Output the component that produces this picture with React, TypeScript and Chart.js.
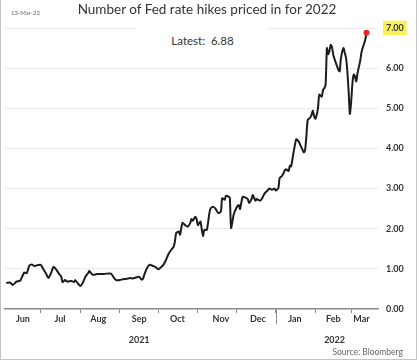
import React, { useEffect, useRef } from "react";
import { Chart, registerables } from "chart.js";

Chart.register(...registerables);

// Day index counted from 1 Jun 2021
const days = [
  3, 6, 8, 11, 14, 17, 19, 21, 23, 25, 27, 30, 32, 34, 36, 38, 40, 42, 44, 46,
  47, 49, 51, 54, 56, 57, 59, 61, 63, 65, 67, 68, 70, 71, 74, 76, 79, 81, 85, 87,
  89, 92, 94, 97, 100, 102, 105, 107, 109, 110, 111, 113, 115, 118, 120, 122, 124, 126, 128, 130,
  132, 134, 135, 136, 138, 139, 140, 141, 143, 145, 147, 148, 149, 151, 152, 153, 155, 156, 157, 158,
  160, 162, 163, 165, 167, 169, 171, 172, 174, 175, 177, 178, 179, 181, 183, 185, 186, 188, 190, 192,
  193, 195, 196, 198, 199, 202, 204, 205, 208, 209, 211, 213, 214, 216, 217, 219, 221, 222, 224, 225,
  226, 228, 230, 232, 234, 236, 237, 238, 239, 241, 242, 243, 244, 245, 247, 248, 250, 251, 252, 253,
  254, 255, 256, 257, 258, 259, 261, 263, 264, 265, 267, 268, 269, 270, 271, 272, 273, 274, 275, 276,
  277, 278, 280, 281, 282, 284, 285,
];
const values = [
  0.65, 0.66, 0.6, 0.68, 0.71, 0.91, 0.89, 1.08, 1.11, 1.07, 1.09, 1.1, 0.99, 0.89, 0.77, 0.89, 1.05, 0.99, 0.89, 0.81,
  0.67, 0.72, 0.68, 0.7, 0.67, 0.72, 0.64, 0.57, 0.66, 0.81, 0.89, 0.95, 0.87, 0.85, 0.87, 0.87, 0.87, 0.88, 0.88, 0.79,
  0.72, 0.72, 0.74, 0.75, 0.77, 0.76, 0.79, 0.8, 0.73, 0.75, 0.85, 1.01, 1.1, 1.07, 1.04, 0.99, 1.04, 1.1, 1.22, 1.37,
  1.47, 1.55, 1.68, 1.89, 1.93, 1.85, 2.01, 2.15, 2.09, 2.05, 2.14, 2.24, 2.2, 2.3, 2.24, 2.09, 2.18, 1.99, 1.82, 1.97,
  1.97, 2.39, 2.51, 2.55, 2.49, 2.39, 2.43, 2.76, 2.72, 2.82, 2.8, 2.76, 2.02, 2.35, 2.51, 2.59, 2.49, 2.79, 2.78, 2.74,
  2.64, 2.74, 2.84, 2.7, 2.74, 2.7, 2.8, 2.87, 2.97, 3.0, 2.97, 3.0, 2.95, 3.01, 3.26, 3.32, 3.45, 3.48, 3.44, 3.57,
  3.55, 3.92, 4.23, 4.17, 4.03, 3.9, 3.97, 4.34, 4.71, 4.77, 4.84, 4.94, 4.8, 4.74, 5.0, 5.34, 5.29, 5.46, 5.5, 5.59,
  6.5, 6.35, 6.43, 6.58, 6.52, 6.33, 6.13, 5.96, 5.92, 6.25, 6.5, 6.38, 6.25, 5.92, 5.42, 4.86, 5.17, 5.63, 5.84, 5.79,
  5.67, 5.88, 6.17, 6.38, 6.5, 6.71, 6.88,
];

const xMin = 2;
const xMax = 294;
const monthBoundaryDays = [30, 61, 92, 122, 153, 183, 214, 245, 273];
const monthLabelDays = [16, 45, 75, 107, 137, 171, 200, 229, 259, 281];
const monthLabels = ["Jun", "Jul", "Aug", "Sep", "Oct", "Nov", "Dec", "Jan", "Feb", "Mar"];
const yearLabelDays = [107, 260];
const yearLabels = ["2021", "2022"];
const yearDividerDay = 214;
const yTicks = [0, 1, 2, 3, 4, 5, 6, 7];
const highlightTick = 7;

const titleText = "Number of Fed rate hikes priced in for 2022";
const dateText = "13-Mar-22";
const latestText = "Latest:  6.88";
const sourceText = "Source: Bloomberg";

const FONT = "Lato, 'Open Sans', sans-serif";

export default function App() {
  const canvasRef = useRef<HTMLCanvasElement | null>(null);

  useEffect(() => {
    document.body.style.margin = "0";
    const canvas = canvasRef.current;
    if (!canvas) return;

    const dividerPlugin = {
      id: "yearDivider",
      afterDraw(chart: any) {
        const xs = chart.scales.x;
        const x = Math.round(xs.getPixelForValue(yearDividerDay)) + 0.5;
        const c = chart.ctx;
        c.save();
        c.strokeStyle = "#8a8a8a";
        c.lineWidth = 1;
        c.beginPath();
        c.moveTo(x, chart.chartArea.bottom - 1);
        c.lineTo(x, chart.chartArea.bottom + 15);
        c.stroke();
        c.restore();
      },
    };

    const monthTickValues = [...monthBoundaryDays, ...monthLabelDays].sort((a, b) => a - b);
    const last = values.length - 1;

    const chart = new Chart(canvas, {
      type: "line",
      data: {
        datasets: [
          {
            data: days.map((d, i) => ({ x: d, y: values[i] })),
            borderColor: "#1c1c1c",
            borderWidth: 2,
            tension: 0.2,
            pointRadius: (ctx: any) => (ctx.dataIndex === last ? 3 : 0),
            pointBackgroundColor: "#e8262a",
            pointBorderWidth: 0,
            fill: false,
          },
        ],
      },
      options: {
        animation: false,
        responsive: false,
        layout: { padding: { top: 28, bottom: 11, left: 5, right: 0 } },
        plugins: { legend: { display: false }, tooltip: { enabled: false } },
        scales: {
          x: {
            type: "linear",
            position: "bottom",
            min: xMin,
            max: xMax,
            weight: 0,
            afterBuildTicks: (axis: any) => {
              axis.ticks = monthTickValues.map((v) => ({ value: v }));
            },
            afterFit: (axis: any) => {
              axis.height = 22;
            },
            grid: {
              drawOnChartArea: false,
              tickLength: 4,
              tickColor: (ctx: any) =>
                ctx.tick && monthBoundaryDays.includes(ctx.tick.value) ? "#8a8a8a" : "rgba(0,0,0,0)",
            },
            border: { display: true, color: "#8a8a8a", width: 1.5 },
            ticks: {
              autoSkip: false,
              maxRotation: 0,
              padding: 1,
              color: "#333",
              font: { family: FONT, size: 9, weight: "bold" },
              callback: (v: any) => {
                const i = monthLabelDays.indexOf(Number(v));
                return i >= 0 ? monthLabels[i] : "";
              },
            },
          },
          xYear: {
            type: "linear",
            position: "bottom",
            min: xMin,
            max: xMax,
            weight: 1,
            afterBuildTicks: (axis: any) => {
              axis.ticks = yearLabelDays.map((v) => ({ value: v }));
            },
            afterFit: (axis: any) => {
              axis.height = 20;
            },
            grid: { display: false, drawTicks: false },
            border: { display: false },
            ticks: {
              autoSkip: false,
              maxRotation: 0,
              padding: 4,
              color: "#333",
              font: { family: FONT, size: 9, weight: "bold" },
              callback: (v: any) => {
                const i = yearLabelDays.indexOf(Number(v));
                return i >= 0 ? yearLabels[i] : "";
              },
            },
          },
          y: {
            type: "linear",
            position: "right",
            min: 0,
            max: 7,
            afterBuildTicks: (axis: any) => {
              axis.ticks = yTicks.map((v) => ({ value: v }));
            },
            afterFit: (axis: any) => {
              axis.width = 42;
            },
            grid: {
              color: (ctx: any) => (ctx.tick && ctx.tick.value === 0 ? "rgba(0,0,0,0)" : "#ececec"),
              drawTicks: false,
              lineWidth: 1,
            },
            border: { display: false },
            ticks: {
              padding: 8,
              color: "#333",
              font: { family: FONT, size: 9, weight: "bold" },
              callback: (v: any) => Number(v).toFixed(2),
              showLabelBackdrop: (ctx: any) => ctx.tick && ctx.tick.value === highlightTick,
              backdropColor: "#f8f25a",
              backdropPadding: { top: 2, bottom: 2, left: 3, right: 3 },
            },
          },
        },
      },
      plugins: [dividerPlugin],
    } as any);

    return () => chart.destroy();
  }, []);

  return (
    <div style={{ position: "relative", width: 420, height: 362, background: "#fff", overflow: "hidden" }}>
      <canvas ref={canvasRef} width={420} height={362} style={{ position: "absolute", left: 0, top: 0, width: 420, height: 362 }} />
      <div
        style={{
          position: "absolute",
          left: 0,
          top: 0,
          width: 417,
          height: 360,
          boxSizing: "border-box",
          borderLeft: "1px solid #c4c4c4",
          borderRight: "1px solid #c4c4c4",
          borderBottom: "1px solid #c4c4c4",
          pointerEvents: "none",
        }}
      />
      <div
        style={{
          position: "absolute",
          left: 0,
          width: 414,
          top: 1,
          textAlign: "center",
          fontFamily: FONT,
          fontSize: 13.5,
          color: "#333",
          whiteSpace: "nowrap",
        }}
      >
        {titleText}
      </div>
      <div
        style={{
          position: "absolute",
          left: 11,
          top: 9,
          fontFamily: FONT,
          fontSize: 6,
          color: "#666",
          whiteSpace: "nowrap",
        }}
      >
        {dateText}
      </div>
      <div
        style={{
          position: "absolute",
          left: 137,
          width: 131,
          top: 22,
          height: 30,
          lineHeight: "38px",
          background: "#fff",
          textAlign: "center",
          fontFamily: FONT,
          fontSize: 11.5,
          color: "#333",
          whiteSpace: "pre",
        }}
      >
        {latestText}
      </div>
      <div
        style={{
          position: "absolute",
          right: 17,
          top: 347,
          fontFamily: FONT,
          fontSize: 8.5,
          color: "#666",
          whiteSpace: "nowrap",
        }}
      >
        {sourceText}
      </div>
    </div>
  );
}
